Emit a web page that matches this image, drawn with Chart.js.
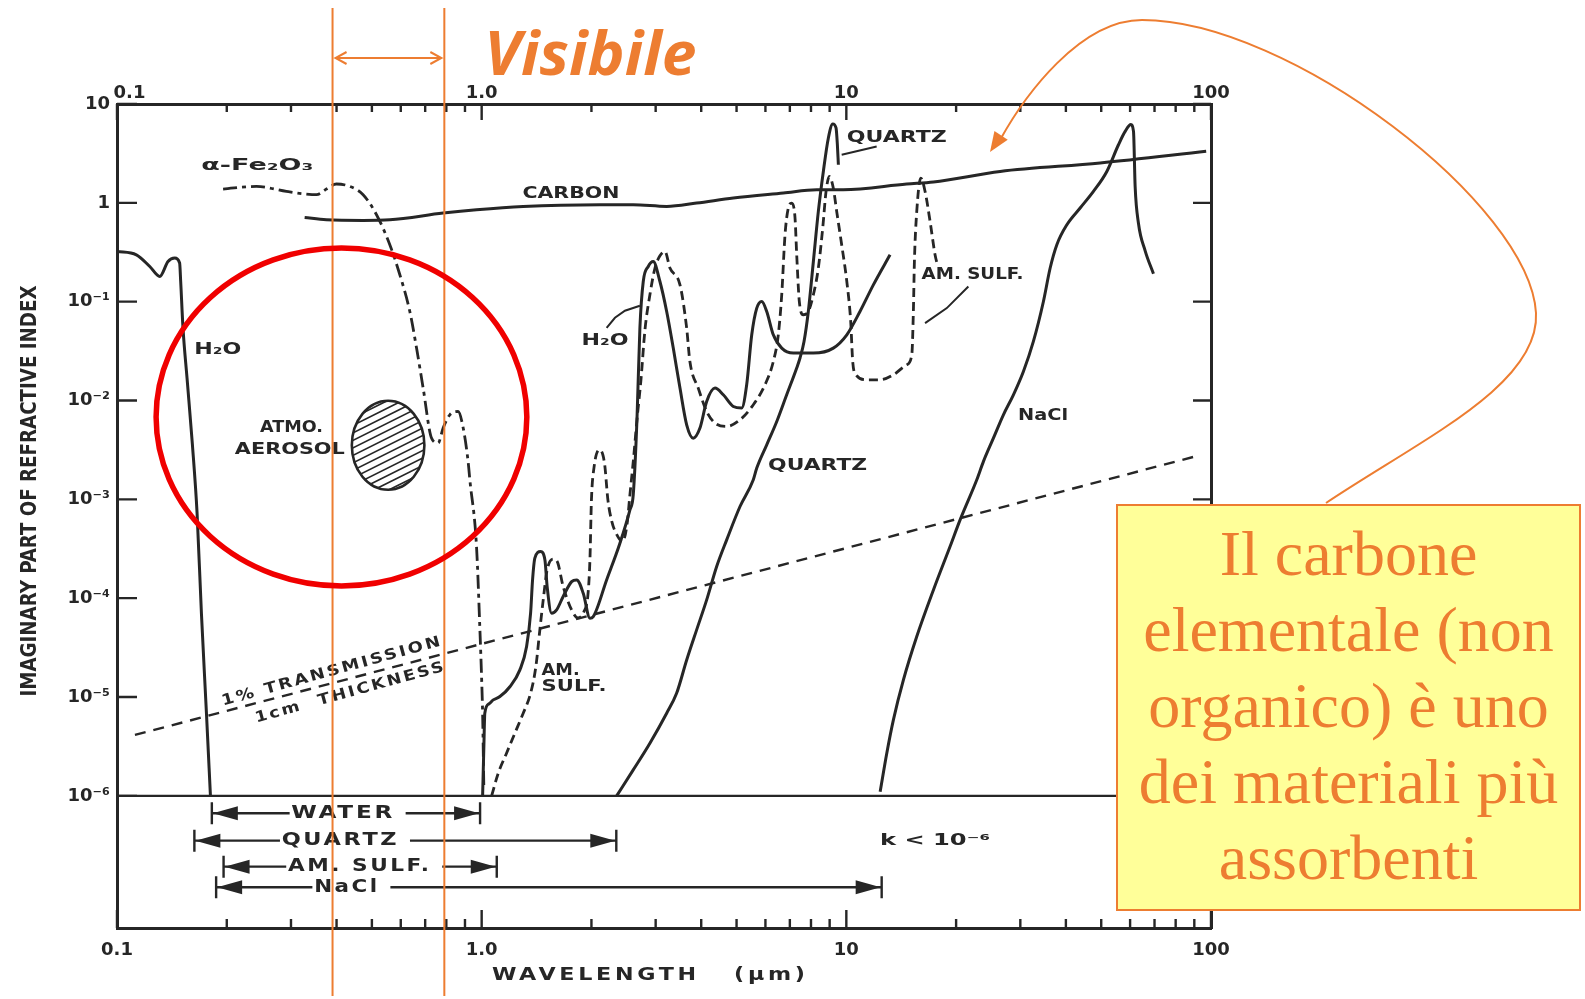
<!DOCTYPE html>
<html>
<head>
<meta charset="utf-8">
<style>
  html, body { margin: 0; padding: 0; background: #fff; }
  canvas { display: block; }
</style>
<script src="https://cdn.jsdelivr.net/npm/chart.js@4.4.1/dist/chart.umd.min.js"></script>
</head>
<body>
<canvas id="chart" width="1585" height="999"></canvas>
<script>
// wavelength (µm) and imaginary part k
const h2oUvLambda = [0.100, 0.113, 0.123, 0.131, 0.138, 0.144, 0.1485, 0.1495, 0.1517, 0.1556, 0.161, 0.1658, 0.1704, 0.1759, 0.1804];
const h2oUvK = [0.322, 0.298, 0.227, 0.180, 0.255, 0.276, 0.246, 0.160, 0.054, 0.0169, 0.00356, 7.25e-4, 7.05e-5, 6.86e-6, 1.0e-6];

const h2oIrLambda = [1.006, 1.014, 1.020, 1.047, 1.076, 1.122, 1.195, 1.273, 1.328, 1.362, 1.379, 1.399, 1.451, 1.491, 1.512, 1.555, 1.605, 1.673, 1.765, 1.822, 1.899, 1.981, 2.023, 2.201, 2.394, 2.550, 2.604, 2.666, 2.716, 2.774, 2.863, 2.954, 3.082, 3.216, 3.353, 3.498, 3.649, 3.804, 3.968, 4.140, 4.363, 4.598, 4.898, 5.164, 5.330, 5.503, 5.680, 5.862, 6.049, 6.306, 6.650, 7.154, 8.121, 9.21, 10.03, 10.90, 11.86, 13.18];
const h2oIrK = [1.0e-6, 3.15e-6, 6.86e-6, 8.51e-6, 9.35e-6, 1.01e-5, 1.27e-5, 1.88e-5, 3.24e-5, 7.05e-5, 1.53e-4, 2.54e-4, 2.96e-4, 2.44e-4, 1.31e-4, 7.05e-5, 7.61e-5, 1.04e-4, 1.47e-4, 1.53e-4, 1.12e-4, 6.27e-5, 6.51e-5, 1.53e-4, 3.60e-4, 7.83e-4, 1.11e-3, 6.38e-3, 0.0544, 0.160, 0.227, 0.255, 0.160, 0.0796, 0.0339, 0.01335, 5.68e-3, 4.16e-3, 5.26e-3, 9.77e-3, 0.01335, 0.01142, 8.70e-3, 8.38e-3, 0.01442, 0.0462, 0.0861, 0.1005, 0.0796, 0.0462, 0.0339, 0.0302, 0.0302, 0.0339, 0.0462, 0.0796, 0.148, 0.298];

const quartzLambda = [2.345, 2.604, 2.893, 3.216, 3.424, 3.649, 3.886, 4.140, 4.410, 4.698, 5.110, 5.558, 5.680, 6.049, 6.445, 6.862, 7.310, 7.464, 7.656, 7.866, 8.121, 8.380, 8.649, 8.927, 9.18, 9.37, 9.45, 9.51];
const quartzK = [1.0e-6, 1.83e-6, 3.41e-6, 6.86e-6, 1.09e-5, 2.37e-5, 4.78e-5, 9.61e-5, 2.09e-4, 3.89e-4, 8.46e-4, 1.58e-3, 2.07e-3, 3.56e-3, 6.13e-3, 0.01142, 0.0213, 0.0269, 0.0396, 0.0796, 0.255, 0.818, 2.078, 4.53, 6.28, 5.72, 3.87, 2.43];

const amSulfLambda = [1.065, 1.110, 1.170, 1.233, 1.300, 1.362, 1.408, 1.444, 1.475, 1.512, 1.571, 1.611, 1.673, 1.765, 1.836, 1.907, 1.956, 1.981, 2.000, 2.032, 2.101, 2.172, 2.219, 2.276, 2.349, 2.432, 2.503, 2.550, 2.607, 2.666, 2.734, 2.804, 2.893, 2.987, 3.082, 3.181, 3.283, 3.498, 3.649, 3.724, 3.926, 4.140, 4.363, 4.698, 5.110, 5.558, 5.984, 6.306, 6.508, 6.650, 6.790, 6.933, 7.083, 7.233, 7.310, 7.431, 7.621, 7.866, 8.121, 8.380, 8.615, 8.798, 8.982, 9.21, 9.41, 9.71, 10.03, 10.28, 10.41, 10.63, 11.38, 12.38, 13.46, 14.64, 15.12, 15.27, 15.37, 15.60, 16.00, 16.44, 16.97, 17.51, 17.77];
const amSulfK = [1.0e-6, 1.69e-6, 2.70e-6, 4.30e-6, 6.86e-6, 1.09e-5, 2.03e-5, 4.78e-5, 9.61e-5, 1.93e-4, 2.48e-4, 2.35e-4, 1.31e-4, 7.61e-5, 6.32e-5, 7.27e-5, 1.08e-4, 2.44e-4, 9.88e-4, 2.08e-3, 3.17e-3, 2.32e-3, 9.88e-4, 5.92e-4, 4.37e-4, 3.74e-4, 5.52e-4, 1.11e-3, 2.51e-3, 6.38e-3, 0.0162, 0.0519, 0.1174, 0.219, 0.291, 0.322, 0.219, 0.148, 0.0540, 0.0248, 0.01335, 7.74e-3, 5.91e-3, 5.46e-3, 6.38e-3, 9.05e-3, 0.01442, 0.0248, 0.0462, 0.1174, 0.4755, 0.886, 0.995, 0.702, 0.298, 0.1005, 0.0737, 0.0796, 0.1174, 0.219, 0.556, 1.305, 1.850, 1.412, 0.818, 0.377, 0.160, 0.0630, 0.0248, 0.0182, 0.0162, 0.0162, 0.0182, 0.0230, 0.0290, 0.0796, 0.255, 0.818, 1.782, 1.305, 0.648, 0.298, 0.236];

const naclLambda = [12.38, 12.91, 13.46, 14.34, 15.60, 17.33, 19.25, 20.51, 22.79, 23.76, 25.31, 26.96, 28.72, 30.59, 32.58, 34.71, 36.22, 37.78, 40.25, 43.77, 47.60, 51.8, 55.75, 58.16, 60.29, 61.30, 61.94, 63.25, 65.99, 69.54];
const naclK = [1.1e-6, 2.70e-6, 5.87e-6, 1.49e-5, 4.09e-5, 1.21e-4, 3.33e-4, 6.20e-4, 1.58e-3, 2.41e-3, 4.16e-3, 7.17e-3, 0.01142, 0.01966, 0.0396, 0.1005, 0.219, 0.377, 0.600, 0.886, 1.305, 2.078, 3.87, 5.28, 6.20, 5.28, 1.462, 0.622, 0.327, 0.1916];

const carbonLambda = [0.327, 0.375, 0.473, 0.560, 0.784, 0.968, 1.300, 2.110, 2.604, 3.216, 3.886, 4.898, 6.718, 8.297, 9.81, 14.64, 17.33, 26.41, 49.67, 97.0];
const carbonK = [0.711, 0.674, 0.664, 0.674, 0.788, 0.852, 0.920, 0.957, 0.957, 0.920, 0.995, 1.118, 1.257, 1.357, 1.357, 1.550, 1.624, 2.078, 2.528, 3.321];

const fe2o3Lambda = [0.1954, 0.2412, 0.2915, 0.3238, 0.3525, 0.3753, 0.3997, 0.4348, 0.4730, 0.5148, 0.5599, 0.5965, 0.6353, 0.6629, 0.6911, 0.7288, 0.7598, 0.784, 0.818, 0.862, 0.890, 0.918, 0.928, 0.968, 0.989, 1.000, 1.006, 1.014];
const fe2o3K = [1.379, 1.466, 1.305, 1.236, 1.208, 1.379, 1.550, 1.466, 1.208, 0.758, 0.377, 0.1872, 0.0796, 0.0339, 0.01335, 4.16e-3, 3.71e-3, 5.26e-3, 7.17e-3, 7.74e-3, 5.26e-3, 2.41e-3, 1.58e-3, 3.33e-4, 4.78e-5, 1.49e-5, 6.86e-6, 1.15e-6];

// 1 % transmission through 1 cm
const transLambda = [0.112, 93.4];
const transK = [4.13e-6, 2.80e-3];

// k = 1e-6 floor line
const floorLambda = [0.1, 100];
const floorK = [1e-6, 1e-6];

// wavelength ranges where k < 1e-6
const rangeNames = ['WATER', 'QUARTZ', 'AM. SULF.', 'NaCl'];
const rangeFrom = [0.182, 0.163, 0.196, 0.187];
const rangeTo = [0.99, 2.34, 1.10, 12.5];
const rangeRowK = [6.67e-7, 3.52e-7, 1.92e-7, 1.19e-7];
const rangeLabelLambda = [0.417, 0.410, 0.463, 0.427];

// atmospheric aerosol patch
const aerosolLambda = [0.4405, 0.6965];
const aerosolK = [1.25e-3, 9.93e-3];

// visible band and highlight circle
const visibleLambda = [0.39, 0.79];
const circleLambda = [0.128, 1.33];
const circleK = [1.33e-4, 0.349];

const xTickValues = [0.1, 1, 10, 100];
const xTickLabels = ['0.1', '1.0', '10', '100'];
const xTopLabels = ['    0.1', '1.0', '10', '100'];
const yTickValues = [10, 1, 0.1, 0.01, 1e-3, 1e-4, 1e-5, 1e-6];
const yTickLabels = ['10', '1', '10⁻¹', '10⁻²', '10⁻³', '10⁻⁴', '10⁻⁵', '10⁻⁶'];

const INK = '#262626';
const ORANGE = '#ED7D31';
const SANS = '"DejaVu Sans", "Liberation Sans", sans-serif';

function series(lams, ks, dash, width, straight) {
  return {
    data: lams.map((l, i) => ({ x: l, y: ks[i] })),
    borderColor: INK,
    borderWidth: width || 3,
    borderDash: dash || [],
    pointRadius: 0,
    fill: false,
    tension: 0,
    cubicInterpolationMode: straight ? 'default' : 'monotone'
  };
}

function text(ctx, str, x, y, o = {}) {
  ctx.save();
  ctx.translate(x, y);
  if (o.angle) ctx.rotate(o.angle * Math.PI / 180);
  ctx.font = o.font || 'bold 15px ' + SANS;
  if (o.spacing) ctx.letterSpacing = o.spacing + 'px';
  ctx.fillStyle = o.color || INK;
  ctx.textAlign = o.align || 'center';
  ctx.textBaseline = 'middle';
  if (o.width) {
    const w = ctx.measureText(str).width - (o.spacing || 0);
    ctx.scale(o.width / w, 1);
  }
  ctx.fillText(str, 0, 0);
  ctx.restore();
}

// [text, lambda, k, width, align]
const curveLabels = [
  ['α-Fe₂O₃', 0.2425, 2.335, 112],
  ['CARBON', 1.757, 1.236, 97],
  ['H₂O', 0.189, 0.0326, 47],
  ['H₂O', 2.178, 0.0396, 47],
  ['QUARTZ', 13.75, 4.53, 100],
  ['AM. SULF.', 22.19, 0.1872, 102],
  ['QUARTZ', 8.34, 2.15e-3, 99],
  ['NaCl', 34.64, 6.89e-3, 50],
  ['AM.', 1.46, 1.81e-5, 38, 'left'],
  ['SULF.', 1.46, 1.27e-5, 65, 'left'],
  ['ATMO.', 0.301, 5.26e-3, 63],
  ['AEROSOL', 0.2978, 3.17e-3, 110],
  ['k < 10⁻⁶', 17.5, 3.5e-7, 110]
];

const leaders = [
  [[2.201, 0.0544], [2.32, 0.0687], [2.471, 0.0809], [2.716, 0.0909]],
  [[9.71, 3.07], [12.11, 3.72]],
  [[16.44, 0.0607], [18.86, 0.0861], [21.61, 0.1425]]
];

const decor = {
  id: 'decor',
  afterDraw(chart) {
    const { ctx, chartArea: a, scales } = chart;
    const X = v => scales.x.getPixelForValue(v);
    const Y = v => scales.y.getPixelForValue(v);
    ctx.save();

    // inner tick marks
    ctx.strokeStyle = INK;
    ctx.lineWidth = 2.4;
    ctx.beginPath();
    [0.1, 1, 10].forEach(d => {
      for (let m = 1; m <= 10; m++) {
        const x = X(d * m);
        const major = m === 1 || m === 10;
        ctx.moveTo(x, a.top); ctx.lineTo(x, a.top + (major ? 16 : 8));
        ctx.moveTo(x, a.bottom); ctx.lineTo(x, a.bottom - (major ? 18 : 9));
      }
    });
    yTickValues.forEach(v => {
      const y = Y(v);
      ctx.moveTo(a.left, y); ctx.lineTo(a.left + 20, y);
      ctx.moveTo(a.right, y); ctx.lineTo(a.right - 18, y);
    });
    ctx.stroke();

    // leader lines
    ctx.lineWidth = 2;
    leaders.forEach(pts => {
      ctx.beginPath();
      pts.forEach((p, i) => i ? ctx.lineTo(X(p[0]), Y(p[1])) : ctx.moveTo(X(p[0]), Y(p[1])));
      ctx.stroke();
    });

    // curve labels
    curveLabels.forEach(l => text(ctx, l[0], X(l[1]), Y(l[2]), { width: l[3], align: l[4] }));

    // 1% transmission labels along the dashed line
    text(ctx, '1% TRANSMISSION', X(0.389), Y(1.81e-5), { angle: -15.4, width: 226, font: 'bold 15px ' + SANS, spacing: 2 });
    text(ctx, '1cm  THICKNESS', X(0.437), Y(1.108e-5), { angle: -15.4, width: 195, font: 'bold 15px ' + SANS, spacing: 2 });

    // hatched aerosol patch
    const ex0 = X(aerosolLambda[0]), ex1 = X(aerosolLambda[1]);
    const ey0 = Y(aerosolK[1]), ey1 = Y(aerosolK[0]);
    const ecx = (ex0 + ex1) / 2, ecy = (ey0 + ey1) / 2, erx = (ex1 - ex0) / 2, ery = (ey1 - ey0) / 2;
    ctx.save();
    ctx.beginPath();
    ctx.ellipse(ecx, ecy, erx, ery, 0, 0, Math.PI * 2);
    ctx.clip();
    ctx.lineWidth = 1.7;
    ctx.beginPath();
    for (let s = -120; s <= 120; s += 7.5) {
      ctx.moveTo(ecx - 80, ecy + s + 40);
      ctx.lineTo(ecx + 80, ecy + s - 40);
    }
    ctx.stroke();
    ctx.restore();
    ctx.lineWidth = 2.6;
    ctx.beginPath();
    ctx.ellipse(ecx, ecy, erx, ery, 0, 0, Math.PI * 2);
    ctx.stroke();

    // k < 1e-6 ranges
    const rangeWidths = [101, 115, 141, 63];
    rangeNames.forEach((name, i) => {
      const x0 = X(rangeFrom[i]), x1 = X(rangeTo[i]), y = Y(rangeRowK[i]);
      const xc = X(rangeLabelLambda[i]), hw = rangeWidths[i] / 2;
      text(ctx, name, xc, y, { width: rangeWidths[i], font: 'bold 17px ' + SANS, spacing: 2 });
      ctx.lineWidth = 2.4;
      ctx.beginPath();
      ctx.moveTo(x0, y); ctx.lineTo(xc - hw - 3, y);
      ctx.moveTo(xc + hw + 12, y); ctx.lineTo(x1, y);
      ctx.moveTo(x0, y - 11); ctx.lineTo(x0, y + 11);
      ctx.moveTo(x1, y - 11); ctx.lineTo(x1, y + 11);
      ctx.stroke();
      ctx.fillStyle = INK;
      ctx.beginPath();
      ctx.moveTo(x0 + 1, y); ctx.lineTo(x0 + 26, y - 7); ctx.lineTo(x0 + 26, y + 7); ctx.closePath();
      ctx.moveTo(x1 - 1, y); ctx.lineTo(x1 - 26, y - 7); ctx.lineTo(x1 - 26, y + 7); ctx.closePath();
      ctx.fill();
    });

    // axis titles
    text(ctx, 'WAVELENGTH   (μm)', X(2.9), 975, { width: 313, font: 'bold 18px ' + SANS, spacing: 3 });
    text(ctx, 'IMAGINARY PART OF REFRACTIVE INDEX', 30, 491, { angle: -90, width: 411, font: 'bold 22px "DejaVu Sans Condensed", ' + SANS });

    // visible band
    ctx.strokeStyle = ORANGE;
    ctx.lineWidth = 2;
    const v0 = X(visibleLambda[0]), v1 = X(visibleLambda[1]);
    ctx.beginPath();
    ctx.moveTo(v0, 8); ctx.lineTo(v0, 996);
    ctx.moveTo(v1, 8); ctx.lineTo(v1, 996);
    ctx.moveTo(v0 + 3, 58); ctx.lineTo(v1 - 3, 58);
    ctx.moveTo(v0 + 14, 52); ctx.lineTo(v0 + 3, 58); ctx.lineTo(v0 + 14, 64);
    ctx.moveTo(v1 - 14, 52); ctx.lineTo(v1 - 3, 58); ctx.lineTo(v1 - 14, 64);
    ctx.stroke();
    text(ctx, 'Visibile', v1 + 40, 58, { align: 'left', width: 212, color: ORANGE, font: 'italic bold 60px "Open Sans", ' + SANS });

    // red highlight circle
    const cx0 = X(circleLambda[0]), cx1 = X(circleLambda[1]);
    const cy0 = Y(circleK[1]), cy1 = Y(circleK[0]);
    ctx.strokeStyle = '#f00000';
    ctx.lineWidth = 5.5;
    ctx.beginPath();
    ctx.ellipse((cx0 + cx1) / 2, (cy0 + cy1) / 2, (cx1 - cx0) / 2, (cy1 - cy0) / 2, 0, 0, Math.PI * 2);
    ctx.stroke();

    // yellow note box
    ctx.fillStyle = '#FFFF99';
    ctx.fillRect(1117, 505, 463, 405);
    ctx.strokeStyle = ORANGE;
    ctx.lineWidth = 2;
    ctx.strokeRect(1117, 505, 463, 405);
    const noteLines = ['Il carbone', 'elementale (non', 'organico) è uno', 'dei materiali più', 'assorbenti'];
    noteLines.forEach((t, i) => text(ctx, t, 1348.5, 558 + i * 76, { color: ORANGE, font: '64px "Liberation Serif", "Times New Roman", serif' }));

    // curved arrow from the note to the carbon curve
    ctx.lineWidth = 2;
    ctx.beginPath();
    ctx.moveTo(1326, 503);
    ctx.bezierCurveTo(1420, 440, 1540, 385, 1536, 313);
    ctx.bezierCurveTo(1530, 205, 1290, 20, 1142, 20);
    ctx.bezierCurveTo(1080, 20, 1025, 95, 1000, 140);
    ctx.stroke();
    ctx.fillStyle = ORANGE;
    ctx.beginPath();
    const tipX = 990, tipY = 152, ang = Math.atan2(152 - 131, 990 - 1004);
    ctx.moveTo(tipX, tipY);
    ctx.lineTo(tipX - 20 * Math.cos(ang) + 8 * Math.sin(ang), tipY - 20 * Math.sin(ang) - 8 * Math.cos(ang));
    ctx.lineTo(tipX - 20 * Math.cos(ang) - 8 * Math.sin(ang), tipY - 20 * Math.sin(ang) + 8 * Math.cos(ang));
    ctx.closePath();
    ctx.fill();

    ctx.restore();
  }
};

const tickFont = { family: SANS, size: 18, weight: 'bold' };
const axisBorder = { display: true, color: INK, width: 3 };
const noGrid = { display: false, drawTicks: false };

new Chart(document.getElementById('chart'), {
  type: 'line',
  data: {
    datasets: [
      series(floorLambda, floorK, [], 2.4, true),
      series(transLambda, transK, [11, 8], 2.4, true),
      series(h2oUvLambda, h2oUvK),
      series(h2oIrLambda, h2oIrK),
      series(quartzLambda, quartzK),
      series(naclLambda, naclK),
      series(carbonLambda, carbonK),
      series(amSulfLambda, amSulfK, [9, 5], 2.8),
      series(fe2o3Lambda, fe2o3K, [14, 5, 4, 5], 2.8)
    ]
  },
  options: {
    responsive: false,
    animation: false,
    devicePixelRatio: 1,
    layout: { padding: 0 },
    plugins: { legend: { display: false }, tooltip: { enabled: false } },
    scales: {
      x: {
        type: 'logarithmic', position: 'bottom', min: 0.1, max: 100, bounds: 'data',
        grid: noGrid, border: axisBorder,
        afterBuildTicks: s => { s.ticks = xTickValues.map(v => ({ value: v })); },
        afterFit: s => { s.height = 71; },
        ticks: { autoSkip: false, maxRotation: 0, padding: 12, color: INK, font: tickFont, callback: (v, i) => xTickLabels[i] }
      },
      x2: {
        type: 'logarithmic', position: 'top', min: 0.1, max: 100, bounds: 'data',
        grid: noGrid, border: axisBorder,
        afterBuildTicks: s => { s.ticks = xTickValues.map(v => ({ value: v })); },
        afterFit: s => { s.height = 104; },
        ticks: { autoSkip: false, maxRotation: 0, padding: 0, color: INK, font: tickFont, callback: (v, i) => xTopLabels[i] }
      },
      y: {
        type: 'logarithmic', position: 'left', min: 4.6e-8, max: 10, bounds: 'data',
        grid: noGrid, border: axisBorder,
        afterBuildTicks: s => { s.ticks = yTickValues.map(v => ({ value: v })); },
        afterFit: s => { s.width = 117; },
        ticks: { autoSkip: false, padding: 7, color: INK, font: tickFont, callback: (v, i) => yTickLabels[i] }
      },
      y2: {
        type: 'logarithmic', position: 'right', min: 4.6e-8, max: 10, bounds: 'data',
        grid: noGrid, border: axisBorder,
        afterFit: s => { s.width = 374; },
        ticks: { display: false }
      }
    }
  },
  plugins: [decor]
});
</script>
</body>
</html>
